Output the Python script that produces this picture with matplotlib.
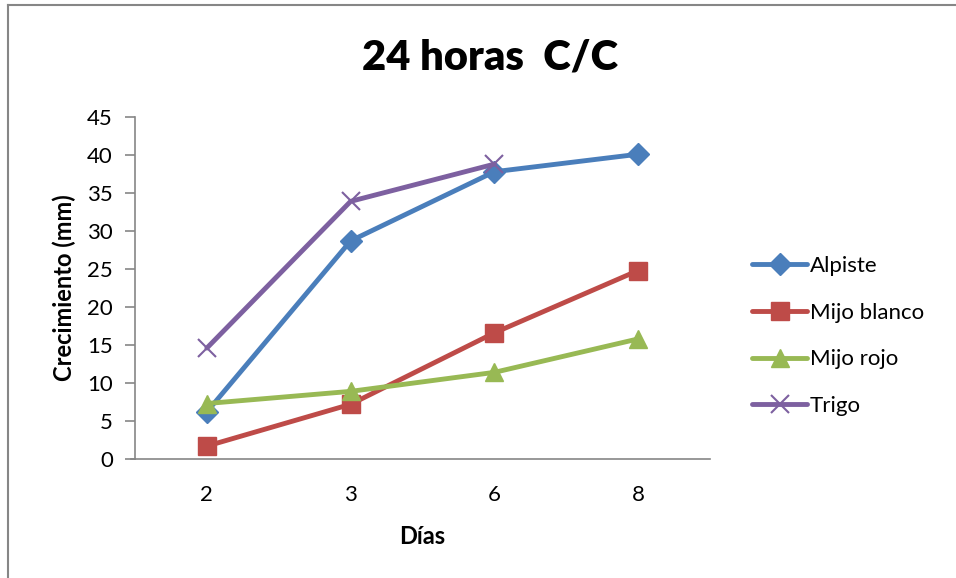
import matplotlib
matplotlib.use('Agg')
import matplotlib.pyplot as plt
from matplotlib.lines import Line2D

plt.rcParams['font.family'] = ['Lato', 'DejaVu Sans']

dias = ['2', '3', '6', '8']
alpiste = [6.2, 28.7, 37.8, 40.1]
mijo_blanco = [1.7, 7.2, 16.6, 24.8]
mijo_rojo = [7.3, 8.9, 11.4, 15.8]
trigo = [14.6, 33.9, 38.8]

series = [
	('Alpiste', alpiste, '#4a7ebb', 'D', 11),
	('Mijo blanco', mijo_blanco, '#be4b48', 's', 12.5),
	('Mijo rojo', mijo_rojo, '#98b954', '^', 13.5),
	('Trigo', trigo, '#7d60a0', 'x', 13),
]

fig = plt.figure(figsize=(9.56, 5.78), dpi=100)
W, H = 956.0, 578.0
ax = fig.add_axes([135/W, 1-459/H, (710-135)/W, (459-117)/H])

pos = list(range(len(dias)))
for name, vals, col, mk, ms in series:
	if mk == 'x':
		ax.plot(pos[:len(vals)], vals, color=col, lw=3.5, marker=mk, ms=ms, mew=1.5,
			label=name, solid_capstyle='round')
	else:
		ax.plot(pos[:len(vals)], vals, color=col, lw=3.5, marker=mk, ms=ms,
			mec=col, mfc=col, label=name, solid_capstyle='round')

ax.set_xlim(-0.5, len(dias)-0.5)
ax.set_ylim(0, 45)
ax.set_yticks(range(0, 46, 5))
ax.set_xticks(pos)
ax.set_xticklabels(dias)
for s in ['top', 'right']:
	ax.spines[s].set_visible(False)
for s in ['left', 'bottom']:
	ax.spines[s].set_color('#868686')
	ax.spines[s].set_linewidth(1.2)
ax.tick_params(axis='y', length=7, width=1.2, color='#868686', labelsize=16, pad=9)
ax.tick_params(axis='x', length=0, labelsize=16, pad=19)
ax.set_ylabel('Crecimiento (mm)', fontsize=17, fontweight='bold', labelpad=8)
ax.set_xlabel('Días', fontsize=17, fontweight='bold', labelpad=14)
# x axis line runs a little past the y axis like the tick marks
ax.plot([-0.53, -0.5], [0, 0], color='#868686', lw=1.2, clip_on=False)

fig.text(490/W, 1-57/H, '24 horas  C/C', fontsize=30, fontweight='heavy',
	ha='center', va='center')

ax.legend(loc='center left', bbox_to_anchor=(743/W, 1-336/H), bbox_transform=fig.transFigure,
	frameon=False, fontsize=16, handlelength=2.5, labelspacing=1.2, handletextpad=0.1,
	borderaxespad=0)

# outer chart frame (top and left edges)
fig.add_artist(Line2D([8/W, 8/W], [0, 1-5/H], color='#868686', lw=1.5, transform=fig.transFigure))
fig.add_artist(Line2D([8/W, 1], [1-5/H, 1-5/H], color='#868686', lw=1.5, transform=fig.transFigure))

fig.savefig('out.png', dpi=100)
